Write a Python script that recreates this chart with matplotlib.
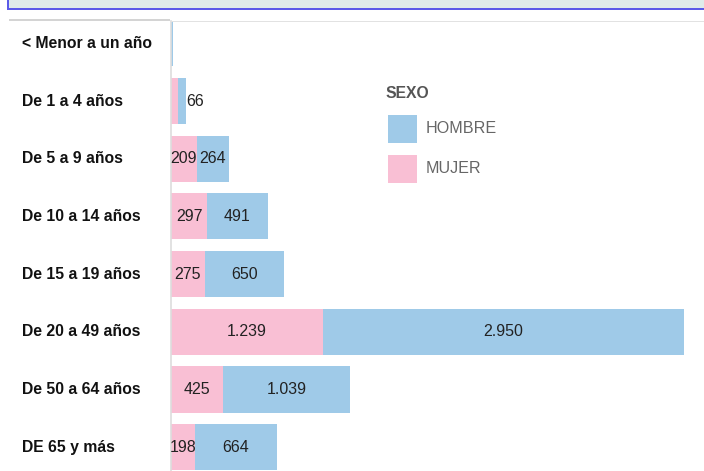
import matplotlib
matplotlib.use("Agg")
import matplotlib.pyplot as plt
from matplotlib.patches import Rectangle

plt.rcParams['font.family'] = ['Liberation Sans', 'DejaVu Sans']

# Data
categories = ['< Menor a un año', 'De 1 a 4 años', 'De 5 a 9 años', 'De 10 a 14 años',
              'De 15 a 19 años', 'De 20 a 49 años', 'De 50 a 64 años', 'DE 65 y más']
mujer = [3, 55, 209, 297, 275, 1239, 425, 198]
hombre = [13, 66, 264, 491, 650, 2950, 1039, 664]
series_names = ['HOMBRE', 'MUJER']
pink = '#f9bfd4'
blue = '#9fcae8'

W, H = 704, 471
fig = plt.figure(figsize=(W / 100, H / 100), dpi=100)

def fx(px):
    return px / W

def fy(py):
    return 1 - py / H

# top strip (piece of a header panel)
fig.patches.append(Rectangle((fx(7), fy(9)), fx(704 - 7), 9 / H, transform=fig.transFigure,
                             facecolor='#dfecea', edgecolor='none'))
fig.patches.append(Rectangle((fx(7), fy(9)), fx(2), 9 / H, transform=fig.transFigure,
                             facecolor='#5b5be8', edgecolor='none'))
fig.patches.append(Rectangle((fx(7), fy(10)), fx(704 - 7), 2 / H, transform=fig.transFigure,
                             facecolor='#5b5be8', edgecolor='none'))
# thin separator lines
fig.patches.append(Rectangle((fx(9), fy(21)), fx(170 - 9), 2 / H, transform=fig.transFigure,
                             facecolor='#d4d4d4', edgecolor='none'))
fig.patches.append(Rectangle((fx(170), fy(22)), fx(704 - 170), 1 / H, transform=fig.transFigure,
                             facecolor='#e2e2e2', edgecolor='none'))

ax = fig.add_axes([fx(171), 0, fx(704 - 171), fy(21)])
px_per_unit = 0.1225
ax.set_xlim(0, (704 - 171) / px_per_unit)
row = 57.7
ax.set_ylim((471 - 43.3) / row, -(43.3 - 21) / row)

y = list(range(len(categories)))
ax.barh(y, mujer, height=0.8, color=pink, linewidth=0)
ax.barh(y, hombre, left=mujer, height=0.8, color=blue, linewidth=0)

def fmt(v):
    return f'{v:,}'.replace(',', '.')

for i in range(len(categories)):
    if i == 0:
        continue
    if i == 1:
        # too narrow: label starts at the bar end
        ax.text(mujer[i] + hombre[i], i, fmt(hombre[i]), ha='left', va='center',
                fontsize=11.5, color='#222222')
        continue
    ax.text(mujer[i] / 2, i, fmt(mujer[i]), ha='center', va='center',
            fontsize=11.5, color='#222222')
    ax.text(mujer[i] + hombre[i] / 2, i, fmt(hombre[i]), ha='center', va='center',
            fontsize=11.5, color='#222222')

# category labels
for i, c in enumerate(categories):
    fig.text(fx(22), fy(43.3 + row * i), c, ha='left', va='center',
             fontsize=11.3, fontweight='bold', color='#111111')

ax.set_xticks([])
ax.set_yticks([])
for s in ['top', 'right', 'bottom']:
    ax.spines[s].set_visible(False)
ax.spines['left'].set_color('#dddddd')
ax.spines['left'].set_linewidth(1.2)

# legend
fig.text(fx(385), fy(94), 'SEXO', ha='left', va='center', fontsize=11.3,
         fontweight='bold', color='#555555')
leg_colors = [blue, pink]
for k, (name, col) in enumerate(zip(series_names, leg_colors)):
    top = 115 + 40 * k
    fig.patches.append(Rectangle((fx(388), fy(top + 28)), fx(29), 28 / H,
                                 transform=fig.transFigure, facecolor=col, edgecolor='none'))
    fig.text(fx(426), fy(top + 14), name, ha='left', va='center', fontsize=11.6,
             color='#666666')

fig.savefig('out.png', dpi=100)
